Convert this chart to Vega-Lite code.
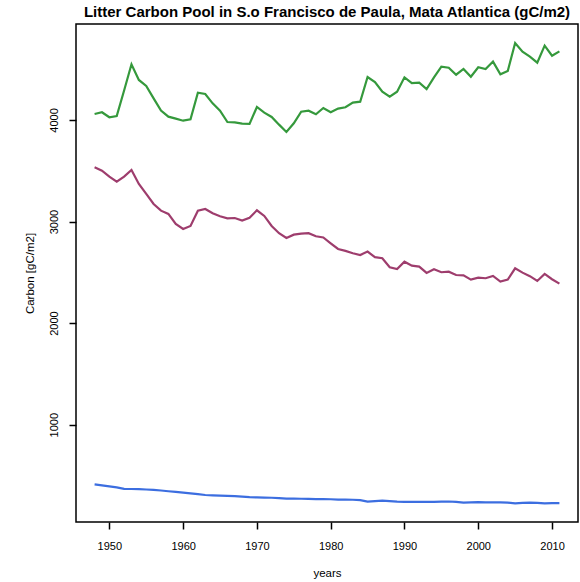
{
  "$schema": "https://vega.github.io/schema/vega-lite/v6.json",
  "width": 502,
  "height": 498,
  "autosize": {"type": "none"},
  "padding": {"left": 76, "top": 24, "right": 2, "bottom": 60},
  "background": "white",
  "title": {
    "text": "Litter Carbon Pool in S.o Francisco de Paula, Mata Atlantica (gC/m2)",
    "font": "Liberation Sans",
    "fontSize": 15,
    "fontWeight": "bold",
    "color": "black",
    "anchor": "middle",
    "offset": 4
  },
  "config": {
    "view": {"stroke": "black", "strokeWidth": 1.5},
    "axis": {
      "labelFont": "Liberation Sans",
      "titleFont": "Liberation Sans",
      "labelFontSize": 11,
      "titleFontSize": 11.5,
      "titleFontWeight": "normal",
      "labelColor": "black",
      "titleColor": "black",
      "tickColor": "black",
      "tickWidth": 1.5,
      "tickSize": 7,
      "domain": false,
      "grid": false
    }
  },
  "data": {
    "values": [
      {"year":1948,"series":"A","carbon":4059},{"year":1949,"series":"A","carbon":4076},{"year":1950,"series":"A","carbon":4027},{"year":1951,"series":"A","carbon":4039},{"year":1952,"series":"A","carbon":4290},{"year":1953,"series":"A","carbon":4548},{"year":1954,"series":"A","carbon":4394},{"year":1955,"series":"A","carbon":4335},{"year":1956,"series":"A","carbon":4213},{"year":1957,"series":"A","carbon":4092},{"year":1958,"series":"A","carbon":4033},{"year":1959,"series":"A","carbon":4013},{"year":1960,"series":"A","carbon":3993},{"year":1961,"series":"A","carbon":4007},{"year":1962,"series":"A","carbon":4269},{"year":1963,"series":"A","carbon":4256},{"year":1964,"series":"A","carbon":4164},{"year":1965,"series":"A","carbon":4092},{"year":1966,"series":"A","carbon":3980},{"year":1967,"series":"A","carbon":3977},{"year":1968,"series":"A","carbon":3964},{"year":1969,"series":"A","carbon":3961},{"year":1970,"series":"A","carbon":4128},{"year":1971,"series":"A","carbon":4072},{"year":1972,"series":"A","carbon":4030},{"year":1973,"series":"A","carbon":3954},{"year":1974,"series":"A","carbon":3882},{"year":1975,"series":"A","carbon":3967},{"year":1976,"series":"A","carbon":4082},{"year":1977,"series":"A","carbon":4092},{"year":1978,"series":"A","carbon":4056},{"year":1979,"series":"A","carbon":4118},{"year":1980,"series":"A","carbon":4076},{"year":1981,"series":"A","carbon":4112},{"year":1982,"series":"A","carbon":4125},{"year":1983,"series":"A","carbon":4171},{"year":1984,"series":"A","carbon":4180},{"year":1985,"series":"A","carbon":4423},{"year":1986,"series":"A","carbon":4374},{"year":1987,"series":"A","carbon":4279},{"year":1988,"series":"A","carbon":4230},{"year":1989,"series":"A","carbon":4279},{"year":1990,"series":"A","carbon":4420},{"year":1991,"series":"A","carbon":4364},{"year":1992,"series":"A","carbon":4367},{"year":1993,"series":"A","carbon":4305},{"year":1994,"series":"A","carbon":4420},{"year":1995,"series":"A","carbon":4525},{"year":1996,"series":"A","carbon":4515},{"year":1997,"series":"A","carbon":4446},{"year":1998,"series":"A","carbon":4502},{"year":1999,"series":"A","carbon":4426},{"year":2000,"series":"A","carbon":4519},{"year":2001,"series":"A","carbon":4502},{"year":2002,"series":"A","carbon":4575},{"year":2003,"series":"A","carbon":4450},{"year":2004,"series":"A","carbon":4482},{"year":2005,"series":"A","carbon":4758},{"year":2006,"series":"A","carbon":4672},{"year":2007,"series":"A","carbon":4623},{"year":2008,"series":"A","carbon":4564},{"year":2009,"series":"A","carbon":4732},{"year":2010,"series":"A","carbon":4633},{"year":2011,"series":"A","carbon":4676},
      {"year":1948,"series":"B","carbon":3534},{"year":1949,"series":"B","carbon":3501},{"year":1950,"series":"B","carbon":3442},{"year":1951,"series":"B","carbon":3393},{"year":1952,"series":"B","carbon":3442},{"year":1953,"series":"B","carbon":3508},{"year":1954,"series":"B","carbon":3370},{"year":1955,"series":"B","carbon":3272},{"year":1956,"series":"B","carbon":3173},{"year":1957,"series":"B","carbon":3107},{"year":1958,"series":"B","carbon":3075},{"year":1959,"series":"B","carbon":2976},{"year":1960,"series":"B","carbon":2927},{"year":1961,"series":"B","carbon":2957},{"year":1962,"series":"B","carbon":3107},{"year":1963,"series":"B","carbon":3124},{"year":1964,"series":"B","carbon":3082},{"year":1965,"series":"B","carbon":3052},{"year":1966,"series":"B","carbon":3032},{"year":1967,"series":"B","carbon":3035},{"year":1968,"series":"B","carbon":3009},{"year":1969,"series":"B","carbon":3038},{"year":1970,"series":"B","carbon":3111},{"year":1971,"series":"B","carbon":3055},{"year":1972,"series":"B","carbon":2957},{"year":1973,"series":"B","carbon":2885},{"year":1974,"series":"B","carbon":2839},{"year":1975,"series":"B","carbon":2871},{"year":1976,"series":"B","carbon":2881},{"year":1977,"series":"B","carbon":2885},{"year":1978,"series":"B","carbon":2855},{"year":1979,"series":"B","carbon":2843},{"year":1980,"series":"B","carbon":2786},{"year":1981,"series":"B","carbon":2730},{"year":1982,"series":"B","carbon":2711},{"year":1983,"series":"B","carbon":2688},{"year":1984,"series":"B","carbon":2671},{"year":1985,"series":"B","carbon":2704},{"year":1986,"series":"B","carbon":2649},{"year":1987,"series":"B","carbon":2639},{"year":1988,"series":"B","carbon":2550},{"year":1989,"series":"B","carbon":2533},{"year":1990,"series":"B","carbon":2605},{"year":1991,"series":"B","carbon":2566},{"year":1992,"series":"B","carbon":2556},{"year":1993,"series":"B","carbon":2494},{"year":1994,"series":"B","carbon":2530},{"year":1995,"series":"B","carbon":2501},{"year":1996,"series":"B","carbon":2507},{"year":1997,"series":"B","carbon":2474},{"year":1998,"series":"B","carbon":2471},{"year":1999,"series":"B","carbon":2428},{"year":2000,"series":"B","carbon":2448},{"year":2001,"series":"B","carbon":2442},{"year":2002,"series":"B","carbon":2465},{"year":2003,"series":"B","carbon":2409},{"year":2004,"series":"B","carbon":2428},{"year":2005,"series":"B","carbon":2540},{"year":2006,"series":"B","carbon":2497},{"year":2007,"series":"B","carbon":2462},{"year":2008,"series":"B","carbon":2415},{"year":2009,"series":"B","carbon":2484},{"year":2010,"series":"B","carbon":2432},{"year":2011,"series":"B","carbon":2389},
      {"year":1948,"series":"C","carbon":412},{"year":1949,"series":"C","carbon":402},{"year":1950,"series":"C","carbon":392},{"year":1951,"series":"C","carbon":383},{"year":1952,"series":"C","carbon":368},{"year":1953,"series":"C","carbon":367},{"year":1954,"series":"C","carbon":365},{"year":1955,"series":"C","carbon":362},{"year":1956,"series":"C","carbon":358},{"year":1957,"series":"C","carbon":352},{"year":1958,"series":"C","carbon":345},{"year":1959,"series":"C","carbon":338},{"year":1960,"series":"C","carbon":332},{"year":1961,"series":"C","carbon":324},{"year":1962,"series":"C","carbon":316},{"year":1963,"series":"C","carbon":308},{"year":1964,"series":"C","carbon":305},{"year":1965,"series":"C","carbon":302},{"year":1966,"series":"C","carbon":300},{"year":1967,"series":"C","carbon":297},{"year":1968,"series":"C","carbon":292},{"year":1969,"series":"C","carbon":287},{"year":1970,"series":"C","carbon":284},{"year":1971,"series":"C","carbon":282},{"year":1972,"series":"C","carbon":281},{"year":1973,"series":"C","carbon":277},{"year":1974,"series":"C","carbon":272},{"year":1975,"series":"C","carbon":272},{"year":1976,"series":"C","carbon":271},{"year":1977,"series":"C","carbon":270},{"year":1978,"series":"C","carbon":268},{"year":1979,"series":"C","carbon":267},{"year":1980,"series":"C","carbon":266},{"year":1981,"series":"C","carbon":263},{"year":1982,"series":"C","carbon":262},{"year":1983,"series":"C","carbon":261},{"year":1984,"series":"C","carbon":258},{"year":1985,"series":"C","carbon":242},{"year":1986,"series":"C","carbon":247},{"year":1987,"series":"C","carbon":252},{"year":1988,"series":"C","carbon":248},{"year":1989,"series":"C","carbon":242},{"year":1990,"series":"C","carbon":241},{"year":1991,"series":"C","carbon":241},{"year":1992,"series":"C","carbon":241},{"year":1993,"series":"C","carbon":241},{"year":1994,"series":"C","carbon":241},{"year":1995,"series":"C","carbon":242},{"year":1996,"series":"C","carbon":244},{"year":1997,"series":"C","carbon":240},{"year":1998,"series":"C","carbon":232},{"year":1999,"series":"C","carbon":236},{"year":2000,"series":"C","carbon":238},{"year":2001,"series":"C","carbon":236},{"year":2002,"series":"C","carbon":236},{"year":2003,"series":"C","carbon":235},{"year":2004,"series":"C","carbon":233},{"year":2005,"series":"C","carbon":226},{"year":2006,"series":"C","carbon":230},{"year":2007,"series":"C","carbon":232},{"year":2008,"series":"C","carbon":230},{"year":2009,"series":"C","carbon":226},{"year":2010,"series":"C","carbon":227},{"year":2011,"series":"C","carbon":228}
    ]
  },
  "mark": {"type": "line", "strokeWidth": 2.2},
  "encoding": {
    "x": {
      "field": "year",
      "type": "quantitative",
      "scale": {"domain": [1945.48, 2013.52], "nice": false, "zero": false},
      "axis": {
        "values": [1950, 1960, 1970, 1980, 1990, 2000, 2010],
        "format": "d",
        "labelPadding": 11,
        "title": "years",
        "titleY": 51,
        "titleBaseline": "middle"
      }
    },
    "y": {
      "field": "carbon",
      "type": "quantitative",
      "scale": {"domain": [42, 4945], "nice": false, "zero": false},
      "axis": {
        "values": [1000, 2000, 3000, 4000],
        "format": "d",
        "labelAngle": 270,
        "labelAlign": "center",
        "labelBaseline": "bottom",
        "labelPadding": 10,
        "title": "Carbon [gC/m2]",
        "titleAngle": 270,
        "titleX": -46,
        "titleY": 249,
        "titleAlign": "center",
        "titleBaseline": "middle"
      }
    },
    "color": {
      "field": "series",
      "type": "nominal",
      "scale": {"domain": ["A", "B", "C"], "range": ["#35993c", "#9e3d6d", "#3c6ee0"]},
      "legend": null
    }
  }
}
